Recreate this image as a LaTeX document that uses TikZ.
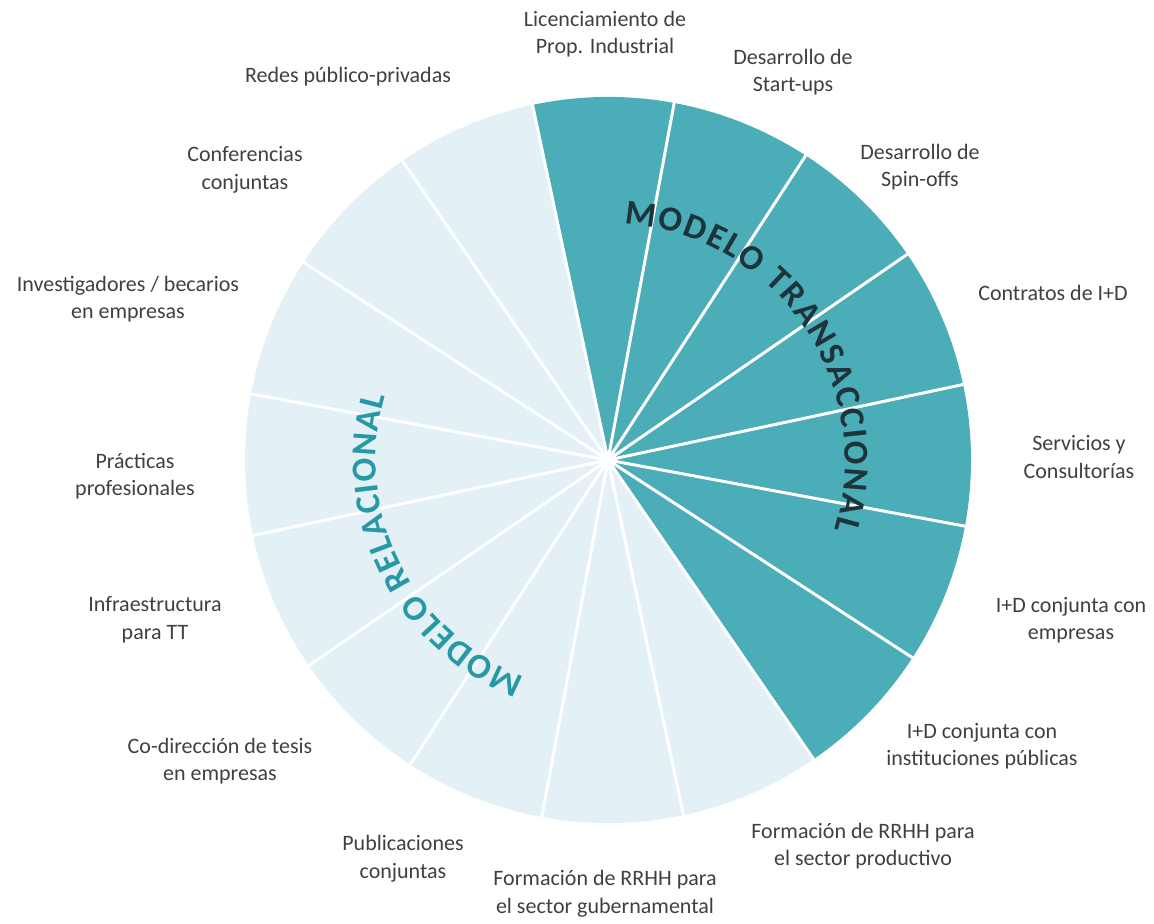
\documentclass[tikz,border=0pt]{standalone}
\usepackage{fontspec}
\setmainfont{Carlito}
\usepackage{tikz}
\usetikzlibrary{calc,decorations.text}
\usepackage{xcolor}
\definecolor{transcolor}{RGB}{75,173,184}
\definecolor{relcolor}{RGB}{227,240,245}
\definecolor{labelcolor}{RGB}{64,64,64}
\definecolor{transtext}{RGB}{28,52,58}
\definecolor{reltext}{RGB}{38,152,166}

\begin{document}
\begin{tikzpicture}[
    x=0.5pt, y=0.5pt,
    lab/.style={align=center, text=labelcolor, font=\fontsize{11}{13.8}\selectfont},
    sep/.style={draw=white, line width=1.5pt}
]
    \useasboundingbox (0,0) rectangle (1154,923);
    \coordinate (c) at (608,463);

    % the two halves of the pie
    \fill[transcolor] (c) -- ++(102:363) arc[start angle=102, end angle=-55.5, radius=363] -- cycle;
    \fill[relcolor] (c) -- ++(-55.5:363) arc[start angle=-55.5, end angle=-258, radius=363] -- cycle;

    % slice borders
    \foreach \a in {0,...,15}
        \draw[sep] (c) -- ++({102-22.5*\a}:363);

    % curved titles
    \path[decorate, decoration={text along path, text align={fit to path}, text color=transtext,
        text={|\fontsize{17.5}{20}\selectfont\bfseries|MODELO TRANSACCIONAL}}]
        ($(c)+(86:237)$) arc[start angle=86, end angle=-17, radius=237];
    \path[decorate, decoration={text along path, text align={fit to path}, text color=reltext,
        text={|\fontsize{17.5}{20}\selectfont\bfseries|MODELO RELACIONAL}}]
        ($(c)+(249:232)$) arc[start angle=249, end angle=164, radius=232];

    % labels, transactional side
    \node[lab] (lic) at (605,889) {Licenciamiento de\\Prop. Industrial};
    \node[lab] (startups) at (793,851) {Desarrollo de\\Start-ups};
    \node[lab] (spinoffs) at (920,756) {Desarrollo de\\Spin-offs};
    \node[lab] (contratos) at (1053,630) {Contratos de I+D};
    \node[lab] (servicios) at (1079,466) {Servicios y\\Consultorías};
    \node[lab] (idemp) at (1071,303) {I+D conjunta con\\empresas};
    \node[lab] (idinst) at (982,177) {I+D conjunta con\\instituciones públicas};

    % labels, relational side
    \node[lab] (frprod) at (863,77) {Formación de RRHH para\\el sector productivo};
    \node[lab] (frgub) at (605,29) {Formación de RRHH para\\el sector gubernamental};
    \node[lab] (publ) at (403,64) {Publicaciones\\conjuntas};
    \node[lab] (codir) at (220,162) {Co-dirección de tesis\\en empresas};
    \node[lab] (infra) at (155,303) {Infraestructura\\para TT};
    \node[lab] (practicas) at (135,447) {Prácticas\\profesionales};
    \node[lab] (invest) at (128,624) {Investigadores / becarios\\en empresas};
    \node[lab] (conf) at (245,753) {Conferencias\\conjuntas};
    \node[lab] (redes) at (348,846) {Redes público-privadas};
\end{tikzpicture}
\end{document}
